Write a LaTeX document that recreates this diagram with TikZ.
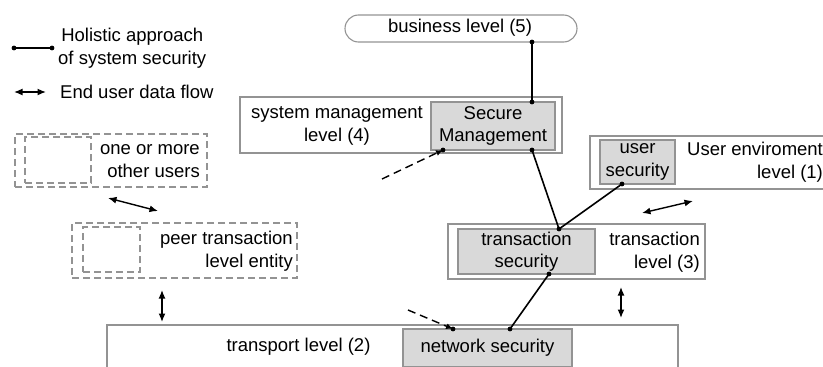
\documentclass[tikz,border=0pt]{standalone}
\usepackage{fontspec}
\setmainfont{Liberation Sans}
\usetikzlibrary{arrows.meta}
\tikzset{
lvlbox/.style={draw=gray!85,line width=1.1pt,inner sep=0pt,fill=white},
secbox/.style={draw=gray!85,line width=1.1pt,inner sep=0pt,fill=gray!30,align=center},
peerbox/.style={draw=gray!85,line width=1.1pt,dash pattern=on 7pt off 4pt,inner sep=0pt},
lbl/.style={inner sep=0pt,align=right},
link/.style={line width=1.6pt,color=black},
flow/.style={line width=1.4pt,{Latex[length=8.5pt,width=7pt]}-{Latex[length=8.5pt,width=7pt]}},
peerlink/.style={line width=1.4pt,dash pattern=on 8pt off 5pt,-{Latex[length=7pt,width=6pt]}}
}
\begin{document}
\begin{tikzpicture}[x=1pt,y=-1pt,font=\fontsize{18.5}{22.5}\selectfont]
\useasboundingbox (0,0) rectangle (823,367);
\clip (0,0) rectangle (823,367);
\node[draw=gray!85,line width=1.1pt,rounded corners=13.5pt,minimum width=232,minimum height=27,inner sep=0pt] (biz) at (461,28.5) {};
\node[inner sep=0pt] (bizl) at (460,28) {business level (5)};
\node[lvlbox,minimum width=322,minimum height=56] (sysm) at (401,125) {};
\node[secbox,minimum width=124,minimum height=48] (secm) at (493,126) {Secure\\Management};
\node[lbl,align=center] (sysml) at (337,126) {system management\\level (4)};
\node[lvlbox,minimum width=250,minimum height=53] (usenv) at (715,162.5) {};
\node[secbox,minimum width=75,minimum height=44] (usec) at (637.5,162) {user\\security};
\node[lbl,anchor=west] (usenvl) at (687,162) {User enviroment\\level (1)};
\node[lvlbox,minimum width=257,minimum height=55] (trans) at (576.5,251.5) {};
\node[secbox,minimum width=137,minimum height=45] (tsec) at (526.5,251.5) {transaction\\security};
\node[lbl,anchor=east] (transl) at (700,252) {transaction\\level (3)};
\node[lvlbox,minimum width=571,minimum height=58] (trsp) at (392.5,354) {};
\node[secbox,minimum width=169,minimum height=38] (nsec) at (487.5,348) {network security};
\node[lbl] (trspl) at (298.5,347) {transport level (2)};
\node[peerbox,minimum width=225,minimum height=55] (peer) at (184.5,250.5) {};
\node[peerbox,minimum width=57,minimum height=45] (peerin) at (111.5,249.5) {};
\node[lbl,anchor=east] (peerl) at (293,251) {peer transaction\\level entity};
\node[peerbox,minimum width=192,minimum height=53] (oth) at (111,160.5) {};
\node[peerbox,minimum width=66,minimum height=46] (othin) at (58,160) {};
\node[lbl,anchor=east] (othl) at (200,161) {one or more\\other users};
\coordinate (bizS) at (532,42);
\coordinate (secmN) at (532,102);
\coordinate (secmS) at (532,150);
\coordinate (secmW) at (443,150);
\coordinate (usecS) at (622,184);
\coordinate (tsecN) at (559,229);
\coordinate (tsecS) at (549,274);
\coordinate (nsecN) at (510,329);
\coordinate (nsecW) at (453,329);
\coordinate (lgA) at (14,48);
\coordinate (lgB) at (52,48);
\draw[link] (bizS)--(secmN);
\draw[link] (secmS)--(tsecN);
\draw[link] (usecS)--(tsecN);
\draw[link] (tsecS)--(nsecN);
\draw[link] (lgA)--(lgB);
\foreach \p in {bizS,secmN,secmS,secmW,usecS,tsecN,tsecS,nsecN,nsecW,lgA,lgB}{
\fill (\p) circle[radius=2.4];
}
\coordinate (pin1) at (382,179);
\coordinate (pin2) at (408,310);
\draw[peerlink] (pin1)--(secmW);
\draw[peerlink] (pin2)--(nsecW);
\coordinate (f1a) at (108,198);
\coordinate (f1b) at (158,211);
\coordinate (f2a) at (162,290);
\coordinate (f2b) at (162,322);
\coordinate (f3a) at (642,213);
\coordinate (f3b) at (693,201);
\coordinate (f4a) at (621,287);
\coordinate (f4b) at (621,318);
\coordinate (lgC) at (14,92);
\coordinate (lgD) at (46,92);
\draw[flow] (f1a)--(f1b);
\draw[flow] (f2a)--(f2b);
\draw[flow] (f3a)--(f3b);
\draw[flow] (f4a)--(f4b);
\draw[flow] (lgC)--(lgD);
\node[lbl,anchor=west,align=left] (lgl1) at (58,48) {\,Holistic approach\\of system security};
\node[lbl,anchor=west] (lgl2) at (60,92) {End user data flow};
\end{tikzpicture}
\end{document}
